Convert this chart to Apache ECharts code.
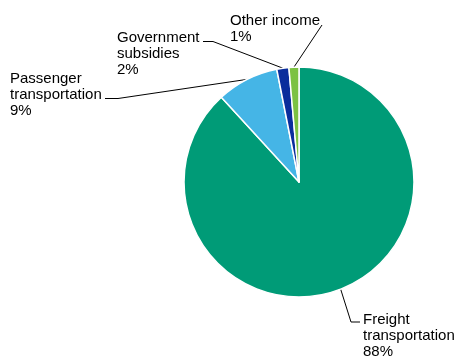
<!DOCTYPE html>
<html>
<head>
<meta charset="utf-8">
<script src="https://cdn.jsdelivr.net/npm/echarts@6/dist/echarts.min.js"></script>
<style>
html,body{margin:0;padding:0;background:#fff;}
#c{width:457px;height:358px;}
</style>
</head>
<body>
<div id="c"></div>
<script>
// Data
const categories = ['Freight\ntransportation', 'Passenger\ntransportation', 'Government\nsubsidies', 'Other income'];
const values = [88.2, 8.7, 1.7, 1.4];
const colors = ['#009B77', '#45B5E6', '#0A2D9C', '#7CC242'];

// Label placement (style): text box top-left and leader elbow points
const labelPos = [
  {x: 363, y: 312, elbow: [351, 322], end: [360, 322]},
  {x: 10, y: 71, elbow: [118, 98.5], end: [105, 98.5]},
  {x: 117, y: 30, elbow: [213, 41.5], end: [203, 41.5]},
  {x: 230, y: 13, elbow: null, end: [322, 25]}
];

const chart = echarts.init(document.getElementById('c'), null, {renderer: 'canvas'});
chart.setOption({
  backgroundColor: '#fff',
  animation: false,
  series: [{
    type: 'pie',
    center: [299, 182],
    radius: 115,
    startAngle: 90,
    clockwise: true,
    percentPrecision: 0,
    avoidLabelOverlap: false,
    data: categories.map((n, i) => ({name: n, value: values[i], itemStyle: {color: colors[i]}})),
    itemStyle: {borderColor: '#fff', borderWidth: 1.5},
    label: {
      show: true,
      position: 'outside',
      formatter: '{b}\n{d}%',
      color: '#000',
      fontFamily: 'Liberation Sans, Arial, sans-serif',
      fontSize: 15,
      lineHeight: 16,
      align: 'left'
    },
    labelLine: {
      show: true,
      length: 10,
      length2: 10,
      smooth: false,
      lineStyle: {color: '#000', width: 1}
    },
    labelLayout: function (params) {
      const p = labelPos[params.dataIndex];
      const start = params.labelLinePoints ? params.labelLinePoints[0] : null;
      const pts = [];
      if (start) pts.push(start);
      if (p.elbow) pts.push(p.elbow);
      pts.push(p.end);
      if (pts.length === 2) pts.splice(1, 0, [(pts[0][0] + pts[1][0]) / 2, (pts[0][1] + pts[1][1]) / 2]);
      return {
        x: p.x,
        y: p.y,
        align: 'left',
        verticalAlign: 'top',
        labelLinePoints: pts
      };
    },
    emphasis: {disabled: true}
  }]
});
</script>
</body>
</html>
